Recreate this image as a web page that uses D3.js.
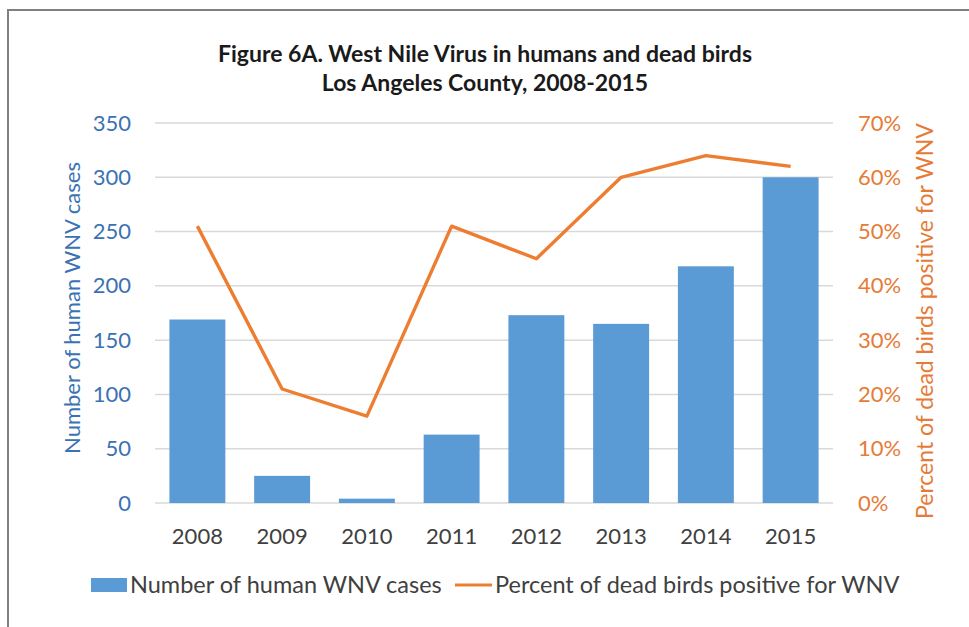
<!DOCTYPE html>
<html>
<head>
<meta charset="utf-8">
<script src="https://cdn.jsdelivr.net/npm/d3@7"></script>
<style>
  html, body { margin: 0; padding: 0; background: #fff; }
  svg { display: block; font-family: Lato, "Open Sans", sans-serif; }
</style>
</head>
<body>
<div id="chart"></div>
<script>
// chart data
const years = ["2008", "2009", "2010", "2011", "2012", "2013", "2014", "2015"];
const humanCases = [169, 25, 4, 63, 173, 165, 218, 300];
const birdPercent = [51, 21, 16, 51, 45, 60, 64, 62];
const leftTicks = [0, 50, 100, 150, 200, 250, 300, 350];
const rightTicks = [0, 10, 20, 30, 40, 50, 60, 70];

const width = 969, height = 627;
const margin = { top: 123, right: 136, bottom: 124, left: 155 };

const svg = d3.select('#chart').append('svg')
    .attr('width', width)
    .attr('height', height);

// frame
svg.append('rect')
    .attr('x', 8).attr('y', 10)
    .attr('width', 1000).attr('height', 700)
    .attr('fill', 'none')
    .attr('stroke', '#808080')
    .attr('stroke-width', 2);

const x = d3.scaleBand()
    .domain(years)
    .range([margin.left, width - margin.right])
    .paddingInner(0.34)
    .paddingOuter(0.17);

const yLeft = d3.scaleLinear()
    .domain([0, 350])
    .range([height - margin.bottom, margin.top]);

const yRight = d3.scaleLinear()
    .domain([0, 70])
    .range([height - margin.bottom, margin.top]);

// gridlines
svg.append('g')
    .selectAll('line')
    .data(leftTicks)
    .join('line')
    .attr('x1', margin.left)
    .attr('x2', width - margin.right)
    .attr('y1', d => yLeft(d))
    .attr('y2', d => yLeft(d))
    .attr('stroke', '#d9d9d9')
    .attr('stroke-width', 1.5);

// bars
svg.append('g')
    .selectAll('rect')
    .data(years)
    .join('rect')
    .attr('x', d => x(d))
    .attr('width', x.bandwidth())
    .attr('y', (d, i) => yLeft(humanCases[i]))
    .attr('height', (d, i) => yLeft(0) - yLeft(humanCases[i]))
    .attr('fill', '#5b9bd5');

// line
const line = d3.line()
    .x((d, i) => x(years[i]) + x.bandwidth() / 2)
    .y(d => yRight(d));

svg.append('path')
    .datum(birdPercent)
    .attr('d', line)
    .attr('fill', 'none')
    .attr('stroke', '#ed7d31')
    .attr('stroke-width', 3.4)
    .attr('stroke-linejoin', 'round');

// left axis
const leftAxis = svg.append('g')
    .attr('transform', `translate(131,0)`)
    .call(d3.axisLeft(yLeft).tickValues(leftTicks).tickSize(0).tickPadding(0));
leftAxis.select('.domain').remove();
leftAxis.selectAll('text')
    .attr('fill', '#3a72b4')
    .style('font-size', '22px')
    .style('font-family', 'Lato, sans-serif');

// right axis
const rightAxis = svg.append('g')
    .attr('transform', `translate(858,0)`)
    .call(d3.axisRight(yRight).tickValues(rightTicks).tickSize(0).tickPadding(0)
        .tickFormat(d => d + '%'));
rightAxis.select('.domain').remove();
rightAxis.selectAll('text')
    .attr('fill', '#e57b36')
    .style('font-size', '22px')
    .style('font-family', 'Lato, sans-serif');

// category axis
const bottomAxis = svg.append('g')
    .attr('transform', `translate(0,${height - margin.bottom + 25})`)
    .call(d3.axisBottom(x).tickSize(0).tickPadding(0));
bottomAxis.select('.domain').remove();
bottomAxis.selectAll('text')
    .attr('fill', '#404040')
    .style('font-size', '22px')
    .style('font-family', 'Lato, sans-serif');

// axis titles
svg.append('text')
    .attr('transform', 'translate(80,308) rotate(-90)')
    .attr('text-anchor', 'middle')
    .attr('fill', '#3a72b4')
    .style('font-size', '22px')
    .text('Number of human WNV cases');

svg.append('text')
    .attr('transform', 'translate(933,321) rotate(-90)')
    .attr('text-anchor', 'middle')
    .attr('fill', '#e57b36')
    .style('font-size', '23px')
    .text('Percent of dead birds positive for WNV');

// title
const title = svg.append('text')
    .attr('text-anchor', 'middle')
    .attr('fill', '#1a1a1a')
    .style('font-size', '23px')
    .style('font-weight', 'bold');
title.append('tspan').attr('x', 485).attr('y', 62).text('Figure 6A. West Nile Virus in humans and dead birds');
title.append('tspan').attr('x', 485).attr('y', 91).text('Los Angeles County, 2008-2015');

// legend
const legend = svg.append('g').attr('transform', 'translate(0,585)');
legend.append('rect')
    .attr('x', 91).attr('y', -7)
    .attr('width', 36).attr('height', 14)
    .attr('fill', '#5b9bd5');
legend.append('text')
    .attr('x', 130).attr('y', 8)
    .attr('fill', '#404040')
    .style('font-size', '23.5px')
    .text('Number of human WNV cases');
legend.append('line')
    .attr('x1', 455).attr('x2', 492)
    .attr('y1', 0).attr('y2', 0)
    .attr('stroke', '#ed7d31')
    .attr('stroke-width', 3);
legend.append('text')
    .attr('x', 495).attr('y', 8)
    .attr('fill', '#404040')
    .style('font-size', '23.5px')
    .text('Percent of dead birds positive for WNV');
</script>
</body>
</html>
